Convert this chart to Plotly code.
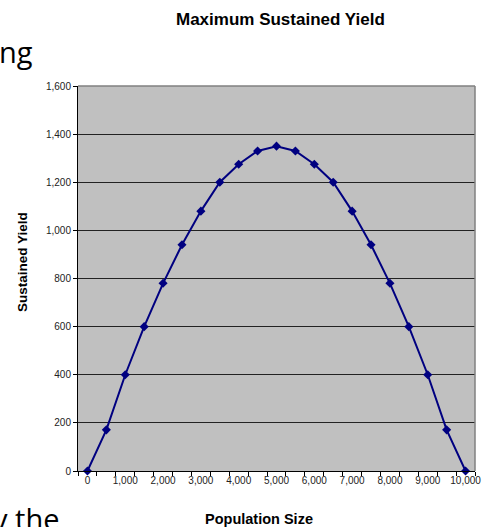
import plotly.graph_objects as go

population = [0, 500, 1000, 1500, 2000, 2500, 3000, 3500, 4000, 4500, 5000,
              5500, 6000, 6500, 7000, 7500, 8000, 8500, 9000, 9500, 10000]
yield_vals = [0, 171, 400, 600, 780, 940, 1080, 1200, 1275, 1330, 1350,
              1330, 1275, 1200, 1080, 940, 780, 600, 400, 171, 0]

title_text = "Maximum Sustained Yield"
x_title = "Population Size"
y_title = "Sustained Yield"

W, H = 482, 527
L, R, T, B = 78, 7, 86, 56
pw, ph = W - L - R, H - T - B

def px(x):
    return (x - L) / pw

def py(y):
    return (H - B - y) / ph

fig = go.Figure()
fig.add_trace(go.Scatter(
    x=population, y=yield_vals, mode="lines+markers",
    line=dict(color="#000080", width=2),
    marker=dict(symbol="diamond", size=7, color="#000080"),
    showlegend=False, cliponaxis=False,
))

fig.update_layout(
    width=W, height=H,
    margin=dict(l=L, r=R, t=T, b=B, autoexpand=False),
    paper_bgcolor="white", plot_bgcolor="#C0C0C0",
    font=dict(family="Liberation Sans, Arial, sans-serif", color="black"),
    xaxis=dict(
        range=[-250, 10250], tickmode="linear", tick0=0, dtick=1000,
        tickformat=",", ticks="", showgrid=False, zeroline=False,
        showline=True, linecolor="black", linewidth=1, automargin=False,
        tickfont=dict(size=10, color="#222"),
        minor=dict(ticks="outside", tick0=-250, dtick=500, ticklen=4,
                   tickcolor="black", showgrid=False),
    ),
    yaxis=dict(
        range=[0, 1600], tickmode="linear", tick0=0, dtick=200,
        tickformat=",", ticks="outside", ticklen=4, tickcolor="black",
        showgrid=True, gridcolor="#222", gridwidth=1, zeroline=False,
        showline=True, linecolor="black", linewidth=1, automargin=False,
        tickfont=dict(size=10, color="#222"),
    ),
)

# top/right plot border (gray)
fig.add_shape(type="line", xref="paper", yref="paper", x0=0, x1=1, y0=1, y1=1,
              line=dict(color="#808080", width=1.5), layer="above")
fig.add_shape(type="line", xref="paper", yref="paper", x0=1, x1=1, y0=0, y1=1,
              line=dict(color="#808080", width=1.5), layer="above")

ann = [
    dict(text="<b>" + title_text + "</b>", x=px(280), y=py(20), size=17, angle=0),
    dict(text="<b>" + x_title + "</b>", x=px(259), y=py(519), size=14.5, angle=0),
    dict(text="<b>" + y_title + "</b>", x=px(22), y=py(262), size=13.5, angle=-90),
]
for a in ann:
    fig.add_annotation(text=a["text"], x=a["x"], y=a["y"], xref="paper", yref="paper",
                       showarrow=False, xanchor="center", yanchor="middle",
                       textangle=a["angle"], font=dict(size=a["size"], color="black"))

# fragments of slide text behind the chart
fig.add_annotation(text="ng", x=px(35), y=py(51), xref="paper", yref="paper",
                   showarrow=False, xanchor="right", yanchor="middle",
                   font=dict(family="Open Sans, sans-serif", size=29, color="black"))
fig.add_annotation(text="y the", x=px(61), y=py(518), xref="paper", yref="paper",
                   showarrow=False, xanchor="right", yanchor="middle",
                   font=dict(family="Open Sans, sans-serif", size=29, color="black"))

fig.write_html("out.html", config={"displayModeBar": False},
               post_script="document.body.style.margin='0px';document.body.style.overflow='hidden';")
